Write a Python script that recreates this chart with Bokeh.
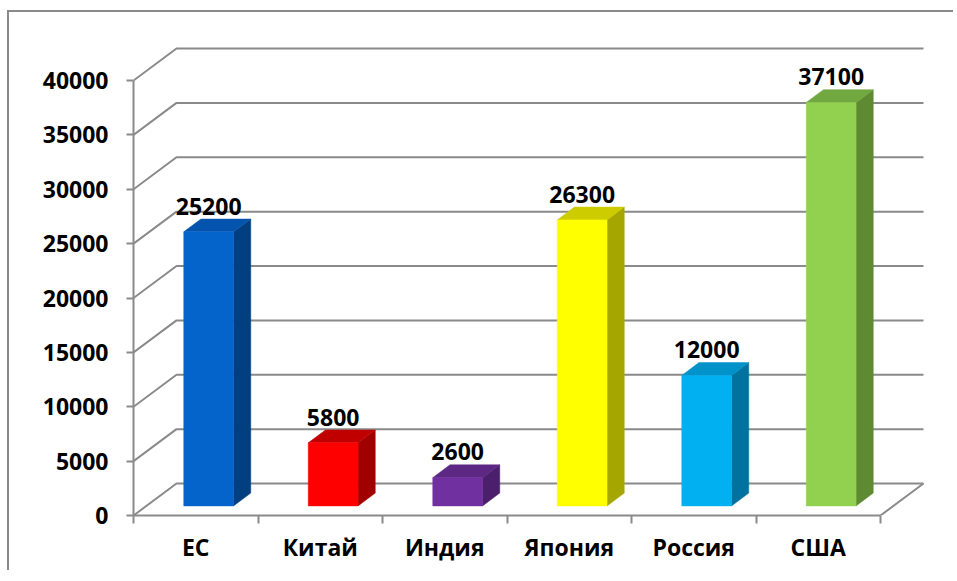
from bokeh.plotting import figure
from bokeh.models import ColumnDataSource, FixedTicker, CustomJSTickFormatter, Range1d
from bokeh.core.properties import value
from bokeh.embed import file_html
from bokeh.resources import INLINE

# ---- data ----
categories = ["ЕС", "Китай", "Индия", "Япония", "Россия", "США"]
values = [25200, 5800, 2600, 26300, 12000, 37100]
front_colors = ["#0563CC", "#FF0000", "#7030A0", "#FFFF00", "#00B0F0", "#92D050"]
top_colors = ["#0454AE", "#C00000", "#5C2884", "#CCCC00", "#0092C8", "#72A840"]
side_colors = ["#023F80", "#A00000", "#4B1F6B", "#A6A600", "#0072A0", "#5E8A32"]
y_ticks = [0, 5000, 10000, 15000, 20000, 25000, 30000, 35000, 40000]

# ---- geometry (figure pixels) ----
W, H = 946, 560
ML, MR, MT, MB = 124, 30, 28, 57
frame_w = W - ML - MR
frame_h = H - MT - MB
cat_px = 124.5                     # width of one category on the front plane
y_px = 435.0 / 40000               # pixels per unit value
x_end = frame_w / cat_px
y_end = frame_h / y_px
DX = 43 / cat_px                   # depth offset in data units
DY = 32 / y_px
f0, f1 = 0.30, 0.70                # bar depth span (fraction of depth)
hw = 0.2                           # half bar width in category units

p = figure(width=W, height=H, output_backend="svg", toolbar_location=None,
           x_range=Range1d(0, x_end), y_range=Range1d(0, y_end),
           min_border_left=ML, min_border_right=MR, min_border_top=MT, min_border_bottom=MB,
           background_fill_color="white", border_fill_color="white",
           outline_line_color=None)
p.margin = (10, 0, 0, 7)
p.styles = {"border-left": "2px solid #8a8a8a", "border-top": "2px solid #8a8a8a"}
p.xgrid.visible = False
p.ygrid.visible = False

n = len(categories)

# ---- 3D walls: gridlines on left side wall + back wall ----
gx, gy = [], []
for t in y_ticks:
    gx.append([0, DX, n + DX])
    gy.append([t, t + DY, t + DY])
gx.append([n, n + DX])
gy.append([0, DY])
p.multi_line(gx, gy, line_color="#8a8a8a", line_width=2)

# ---- bars ----
cx = [i + 0.5 for i in range(n)]
front_l = [c - hw + f0 * DX for c in cx]
front_r = [c + hw + f0 * DX for c in cx]
src = ColumnDataSource(dict(l=front_l, r=front_r, b=[f0 * DY] * n,
                            t=[v + f0 * DY for v in values], c=front_colors))

side_xs, side_ys, top_xs, top_ys = [], [], [], []
for i, v in enumerate(values):
    r0 = cx[i] + hw + f0 * DX
    r1 = cx[i] + hw + f1 * DX
    l0 = cx[i] - hw + f0 * DX
    l1 = cx[i] - hw + f1 * DX
    side_xs.append([r0, r1, r1, r0])
    side_ys.append([f0 * DY, f1 * DY, v + f1 * DY, v + f0 * DY])
    top_xs.append([l0, r0, r1, l1])
    top_ys.append([v + f0 * DY, v + f0 * DY, v + f1 * DY, v + f1 * DY])

p.patches(side_xs, side_ys, fill_color=side_colors, line_color=side_colors, line_width=0.5)
p.patches(top_xs, top_ys, fill_color=top_colors, line_color=top_colors, line_width=0.5)
p.quad(left="l", right="r", bottom="b", top="t", fill_color="c", line_color="c",
       line_width=0.5, source=src)

# ---- value labels ----
lab = ColumnDataSource(dict(x=[c + f0 * DX for c in cx],
                            y=[v + f1 * DY for v in values],
                            txt=[str(v) for v in values]))
p.text(x="x", y="y", text="txt", source=lab, text_align="center",
       text_baseline="alphabetic", y_offset=-13, text_font=value("Open Sans"),
       text_font_style="bold", text_font_size="23px", text_color="black")

# ---- axes ----
yax = p.yaxis[0]
yax.ticker = FixedTicker(ticks=y_ticks, minor_ticks=[])
yax.bounds = (0, 40000)
yax.axis_line_color = "#8a8a8a"
yax.axis_line_width = 2
yax.major_tick_line_color = "#8a8a8a"
yax.major_tick_line_width = 2
yax.major_tick_out = 7
yax.major_tick_in = 0
yax.minor_tick_line_color = None
yax.major_label_standoff = 18
yax.major_label_text_font = "Open Sans"
yax.major_label_text_font_style = "bold"
yax.major_label_text_font_size = "23px"
yax.major_label_text_color = "black"

xax = p.xaxis[0]
xax.ticker = FixedTicker(ticks=cx, minor_ticks=list(range(n + 1)))
xax.formatter = CustomJSTickFormatter(args=dict(cats=categories),
                                      code="return cats[Math.round(tick - 0.5)] || '';")
xax.bounds = (0, n)
xax.axis_line_color = "#8a8a8a"
xax.axis_line_width = 2
xax.major_tick_line_color = None
xax.major_tick_out = 0
xax.major_tick_in = 0
xax.minor_tick_line_color = "#8a8a8a"
xax.minor_tick_line_width = 2
xax.minor_tick_out = 8
xax.minor_tick_in = 0
xax.major_label_standoff = 7
xax.major_label_text_font = "Open Sans"
xax.major_label_text_font_style = "bold"
xax.major_label_text_font_size = "23px"
xax.major_label_text_color = "black"

open("out.html", "w").write(file_html(p, INLINE))
